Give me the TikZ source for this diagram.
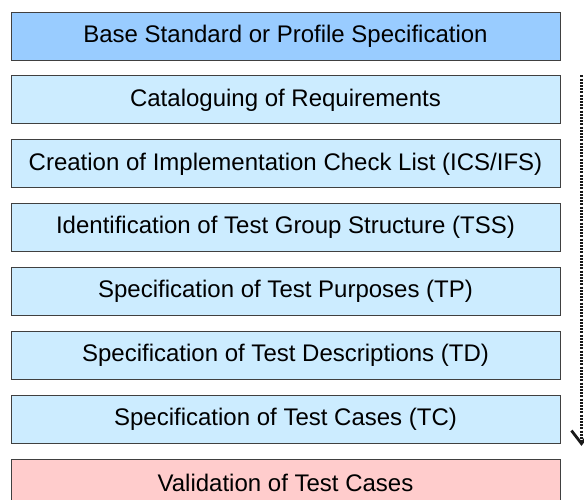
\documentclass[tikz,border=0pt]{standalone}
\usepackage{fontspec}
\setmainfont{Liberation Sans}
\usetikzlibrary{positioning,arrows.meta}
\definecolor{basefill}{HTML}{99CCFF}
\definecolor{stepfill}{HTML}{CCECFF}
\definecolor{valfill}{HTML}{FFCCCC}
\definecolor{edge}{HTML}{404040}
\tikzset{
  phase/.style={draw=edge,line width=0.9pt,fill=stepfill,
    minimum width=549pt,minimum height=48pt,inner sep=0pt,
    font=\fontsize{24}{28}\selectfont},
  flow/.style={dash pattern=on 2pt off 1.2pt,line width=3pt,color=black!90,
    -{Straight Barb[length=13pt,width=20pt,line width=2.8pt]}}
}
\begin{document}
\begin{tikzpicture}[x=1pt,y=1pt]
\useasboundingbox (0,0) rectangle (584,-499);
\clip (0,0) rectangle (584,-499);
\node[phase,fill=basefill] (base) at (285.5,-36) {Base Standard or Profile Specification};
\node[phase,below=15pt of base] (cat) {Cataloguing of Requirements};
\node[phase,below=15pt of cat] (ics) {Creation of Implementation Check List (ICS/IFS)};
\node[phase,below=15pt of ics] (tss) {Identification of Test Group Structure (TSS)};
\node[phase,below=15pt of tss] (tp) {Specification of Test Purposes (TP)};
\node[phase,below=15pt of tp] (td) {Specification of Test Descriptions (TD)};
\node[phase,below=15pt of td] (tc) {Specification of Test Cases (TC)};
\node[phase,fill=valfill,below=15pt of tc] (val) {Validation of Test Cases};
% dotted arrow at the right
\coordinate (flowtop) at ([xshift=21pt]cat.north east);
\coordinate (flowend) at ([xshift=21pt,yshift=-2pt]tc.south east);
\draw[flow] (flowtop) -- (flowend);
\end{tikzpicture}
\end{document}
